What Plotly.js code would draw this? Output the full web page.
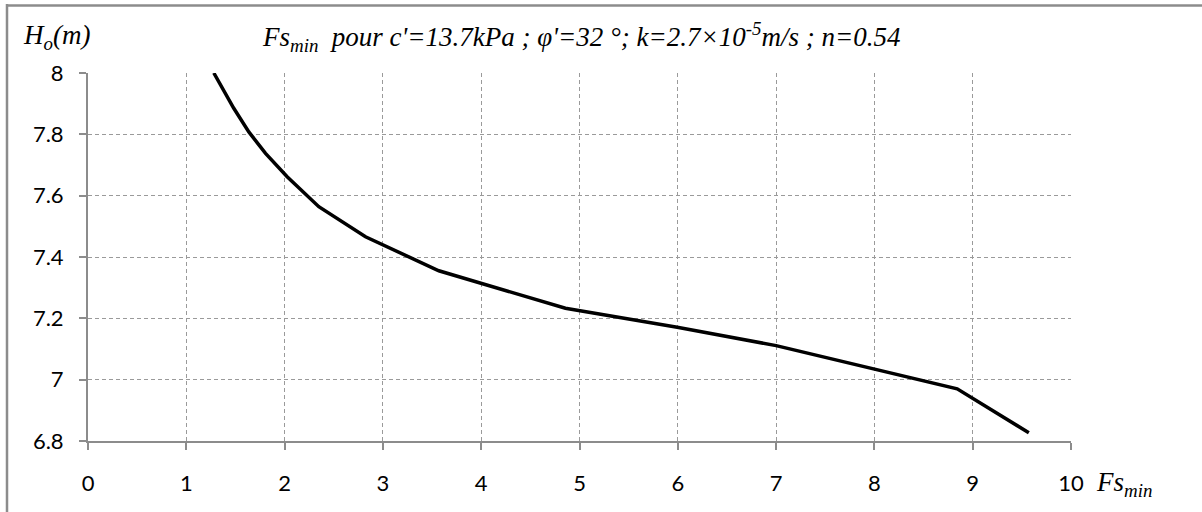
<!DOCTYPE html>
<html>
<head>
<meta charset="utf-8">
<script src="https://cdn.plot.ly/plotly-3.0.1.min.js"></script>
<style>html,body{margin:0;padding:0;background:#fff;}#chart{width:1202px;height:512px;}</style>
</head>
<body>
<div id="chart"></div>
<script>
const fsMin = [1.28, 1.348, 1.483, 1.636, 1.806, 2.026, 2.348, 2.823, 3.569, 4.857, 5.994, 7.0, 8.842, 9.571];
const hO    = [8.0, 7.96, 7.885, 7.808, 7.738, 7.662, 7.564, 7.466, 7.355, 7.233, 7.171, 7.111, 6.970, 6.827];
const xTicks = [0,1,2,3,4,5,6,7,8,9,10];
const yTicks = [6.8,7,7.2,7.4,7.6,7.8,8];
const yTickText = ['6.8','7','7.2','7.4','7.6','7.8','8'];
const titleText = "Fs<sub>min</sub>  pour c'=13.7kPa ; φ'=32 °; k=2.7×10<sup>-5</sup>m/s ; n=0.54";
const yLabel = "H<sub>o</sub>(m)";
const xLabel = "Fs<sub>min</sub>";

const W = 1202, H = 512, L = 88, R = 131, T = 73, B = 71;
const pw = W - L - R, ph = H - T - B;
const px = v => (v - L) / pw;
const py = v => 1 - (v - T) / ph;

const tickFont = {family: 'Lato', size: 22, color: '#000'};
const serif = 'Liberation Serif';

Plotly.newPlot('chart', [{
  x: fsMin, y: hO, type: 'scatter', mode: 'lines',
  line: {color: '#000', width: 3.5}, hoverinfo: 'skip', cliponaxis: true
}], {
  width: W, height: H,
  margin: {l: L, r: R, t: T, b: B, pad: 0},
  paper_bgcolor: '#fff', plot_bgcolor: '#fff',
  showlegend: false,
  xaxis: {
    range: [0, 10], tickvals: xTicks, ticktext: xTicks.map(String),
    showline: true, linecolor: '#8c8c8c', linewidth: 2,
    showgrid: true, gridcolor: '#9a9a9a', griddash: '4px,3px', gridwidth: 1,
    ticks: 'outside', ticklen: 7, tickcolor: '#8c8c8c', tickwidth: 2,
    tickfont: tickFont, ticklabelstandoff: 15, zeroline: false, fixedrange: true
  },
  yaxis: {
    range: [6.8, 8], tickvals: yTicks, ticktext: yTickText,
    showline: true, linecolor: '#8c8c8c', linewidth: 2,
    showgrid: true, gridcolor: '#9a9a9a', griddash: '4px,3px', gridwidth: 1,
    ticks: 'outside', ticklen: 7, tickcolor: '#8c8c8c', tickwidth: 2,
    tickfont: tickFont, ticklabelstandoff: 11, zeroline: false, fixedrange: true
  },
  shapes: [
    {type: 'line', xref: 'paper', yref: 'paper', x0: px(7), x1: px(7), y0: py(4), y1: py(520), line: {color: '#8c8c8c', width: 2.5}},
    {type: 'line', xref: 'paper', yref: 'paper', x0: px(6), x1: px(1210), y0: py(5.5), y1: py(5.5), line: {color: '#8c8c8c', width: 2.5}}
  ],
  annotations: [
    {text: titleText, xref: 'paper', yref: 'paper', x: px(581), y: py(37), xanchor: 'center', yanchor: 'middle', showarrow: false,
     font: {family: serif, size: 27, color: '#000', style: 'italic'}},
    {text: yLabel, xref: 'paper', yref: 'paper', x: px(21), y: py(37), xanchor: 'left', yanchor: 'middle', showarrow: false,
     font: {family: serif, size: 27, color: '#000', style: 'italic'}},
    {text: xLabel, xref: 'paper', yref: 'paper', x: px(1094), y: py(484), xanchor: 'left', yanchor: 'middle', showarrow: false,
     font: {family: serif, size: 27, color: '#000', style: 'italic'}}
  ]
}, {staticPlot: true});
</script>
</body>
</html>
